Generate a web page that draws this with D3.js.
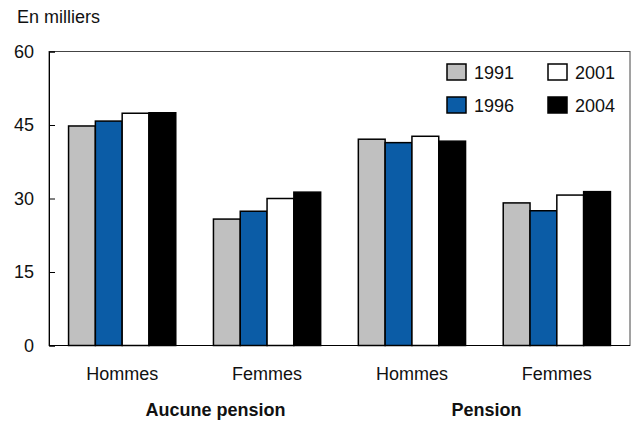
<!DOCTYPE html>
<html>
<head>
<meta charset="utf-8">
<script src="https://cdn.jsdelivr.net/npm/d3@7"></script>
<style>
  body { margin: 0; background: #fff; }
  svg { display: block; font-family: "Liberation Sans", Arial, sans-serif; }
</style>
</head>
<body>
<script>
//chart data
var years = ["1991", "1996", "2001", "2004"];
var categories = ["Hommes", "Femmes", "Hommes", "Femmes"];
var groupNames = ["Aucune pension", "Pension"];
var v1991 = [44.8, 25.8, 42.1, 29.1];
var v1996 = [45.8, 27.4, 41.4, 27.5];
var v2001 = [47.4, 30.0, 42.7, 30.7];
var v2004 = [47.5, 31.3, 41.7, 31.4];
var yTicks = [0, 15, 30, 45, 60];

(function drawChart(){
  var series = [v1991, v1996, v2001, v2004];
  var colors = ["#c0c0c0", "#0b5ca6", "#ffffff", "#000000"];

  var width = 631, height = 421;
  var plotLeft = 49, plotRight = 630, plotTop = 51.5, plotBottom = 345.5;

  var svg = d3.select("body").append("svg")
    .attr("width", width)
    .attr("height", height);

  //scales
  var x0 = d3.scaleBand()
    .domain(d3.range(categories.length))
    .range([plotLeft, plotRight])
    .paddingInner(0.26)
    .paddingOuter(0.135);

  var x1 = d3.scaleBand()
    .domain(d3.range(years.length))
    .range([0, x0.bandwidth()]);

  var y = d3.scaleLinear()
    .domain([0, 60])
    .range([plotBottom, plotTop]);

  //frame
  svg.append("rect")
    .attr("x", plotLeft).attr("y", plotTop)
    .attr("width", plotRight - plotLeft).attr("height", plotBottom - plotTop)
    .attr("fill", "none")
    .attr("stroke", "#444")
    .attr("stroke-width", 1);

  //y axis, ticks pointing inward
  var yAxis = svg.append("g")
    .attr("transform", "translate(" + plotLeft + ",0)")
    .call(d3.axisLeft(y).tickValues(yTicks).tickSize(-6).tickPadding(15));
  yAxis.select(".domain").attr("stroke", "#000");
  yAxis.selectAll(".tick line").attr("stroke", "#000");
  yAxis.selectAll("text")
    .attr("font-size", 18)
    .attr("fill", "#111")
    .attr("font-family", "Liberation Sans, Arial, sans-serif");

  //bars
  var cat = svg.selectAll(".cat")
    .data(categories)
    .enter()
    .append("g")
    .attr("class", "cat")
    .attr("transform", function(d, i){ return "translate(" + x0(i) + ",0)"; });

  cat.selectAll("rect")
    .data(function(d, i){
      return series.map(function(s, k){ return {k: k, v: s[i]}; });
    })
    .enter()
    .append("rect")
    .attr("x", function(d){ return x1(d.k); })
    .attr("width", x1.bandwidth())
    .attr("y", function(d){ return y(d.v); })
    .attr("height", function(d){ return y(0) - y(d.v); })
    .attr("fill", function(d){ return colors[d.k]; })
    .attr("stroke", "#000")
    .attr("stroke-width", 1.5);

  //zero line
  svg.append("line")
    .attr("x1", plotLeft).attr("x2", plotRight)
    .attr("y1", y(0)).attr("y2", y(0))
    .attr("stroke", "#000");

  //category labels
  svg.selectAll(".catLabel")
    .data(categories)
    .enter()
    .append("text")
    .attr("class", "catLabel")
    .attr("x", function(d, i){ return x0(i) + x0.bandwidth() / 2; })
    .attr("y", 380)
    .attr("text-anchor", "middle")
    .attr("font-size", 18)
    .attr("fill", "#111")
    .text(function(d){ return d; });

  //group labels (the first one sits a bit right of centre in the original)
  var groupShift = [21, 2];
  svg.selectAll(".groupLabel")
    .data(groupNames)
    .enter()
    .append("text")
    .attr("class", "groupLabel")
    .attr("x", function(d, i){
      var a = x0(i * 2) + x0.bandwidth() / 2, b = x0(i * 2 + 1) + x0.bandwidth() / 2;
      return (a + b) / 2 + groupShift[i];
    })
    .attr("y", 416)
    .attr("text-anchor", "middle")
    .attr("font-size", 18)
    .attr("font-weight", "bold")
    .attr("fill", "#111")
    .text(function(d){ return d; });

  //unit label
  svg.append("text")
    .attr("x", 17).attr("y", 23)
    .attr("font-size", 18)
    .attr("fill", "#111")
    .text("En milliers");

  //legend, two columns
  var legend = svg.selectAll(".legend")
    .data(years)
    .enter()
    .append("g")
    .attr("class", "legend")
    .attr("transform", function(d, i){
      return "translate(" + (447 + Math.floor(i / 2) * 101) + "," + (64 + (i % 2) * 33) + ")";
    });

  legend.append("rect")
    .attr("width", 19).attr("height", 16)
    .attr("fill", function(d, i){ return colors[i]; })
    .attr("stroke", "#000")
    .attr("stroke-width", 1.5);

  legend.append("text")
    .attr("x", 27).attr("y", 15)
    .attr("font-size", 18)
    .attr("fill", "#111")
    .text(function(d){ return d; });
})();
</script>
</body>
</html>
